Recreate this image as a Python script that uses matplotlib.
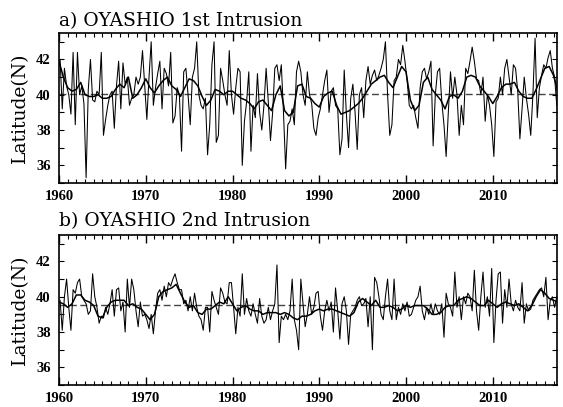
import numpy as np
import matplotlib
matplotlib.use("Agg")
import matplotlib.pyplot as plt
from matplotlib.ticker import MultipleLocator

# panel a: 1st intrusion latitude, 4 values per year from 1960
a_thin = [
    42.0, 39.2, 41.5, 40.5,  40.0, 38.9, 42.4, 38.3,  42.4, 40.0, 40.5, 39.5,
    35.3, 40.3, 42.0, 39.7,  39.6, 40.2, 40.0, 42.4,  37.7, 38.6, 39.4, 40.0,
    40.2, 38.1, 40.5, 41.9,  39.2, 41.8, 40.6, 41.0,  39.4, 39.8, 40.0, 41.0,
    40.6, 41.0, 42.5, 40.5,  38.6, 41.0, 43.0, 39.4,  40.4, 41.2, 41.9, 39.2,
    41.5, 41.2, 40.5, 42.4,  38.4, 38.8, 40.4, 40.0,  36.8, 41.3, 41.5, 40.0,
    38.3, 41.0, 41.5, 43.0,  40.0, 39.4, 39.2, 39.8,  36.6, 38.3, 41.7, 43.0,
    37.3, 37.7, 41.5, 40.8,  40.0, 39.4, 42.5, 40.0,  38.9, 40.4, 41.5, 41.3,
    36.0, 38.5, 39.6, 41.3,  36.8, 39.4, 38.7, 41.2,  39.0, 38.0, 39.4, 41.5,
    39.6, 37.4, 39.0, 41.5,  41.7, 40.8, 41.7, 39.0,  35.8, 38.3, 38.5, 39.2,
    38.3, 41.3, 41.9, 41.3,  40.0, 39.4, 41.3, 40.0,  39.5, 38.1, 37.7, 38.7,
    39.2, 40.0, 40.8, 41.4,  39.0, 40.2, 40.4, 39.4,  39.2, 36.6, 37.5, 41.4,
    38.9, 37.0, 39.8, 40.6,  39.0, 36.9, 40.0, 40.4,  38.7, 40.8, 41.6, 40.6,
    41.1, 41.4, 40.8, 41.1,  41.5, 42.0, 43.0, 40.0,  37.7, 38.3, 40.8, 41.0,
    42.0, 41.7, 42.8, 41.9,  40.8, 39.4, 39.2, 39.4,  38.7, 38.1, 40.4, 41.3,
    41.5, 40.9, 41.3, 41.9,  37.1, 40.0, 41.3, 41.5,  39.6, 38.3, 36.5, 39.0,
    41.3, 39.8, 41.0, 40.0,  37.7, 39.4, 38.3, 41.5,  41.2, 41.9, 42.7, 41.9,
    40.9, 40.8, 40.0, 41.0,  38.5, 40.0, 39.4, 38.3,  36.5, 39.6, 39.8, 41.0,
    40.0, 41.5, 42.0, 41.0,  40.0, 41.7, 41.5, 40.2,  37.5, 39.2, 41.0, 39.8,
    38.9, 37.7, 40.0, 43.2,  38.7, 40.4, 41.1, 41.7,  41.5, 42.1, 42.5, 41.5,
    41.0, 39.4,
]
# panel a: smoothed curve, 2 values per year from 1960.0
a_smooth = [
    41.9, 41.0, 40.4, 40.2, 40.3, 40.7, 40.0, 39.9, 39.9, 40.0,
    39.8, 39.8, 39.9, 40.3, 40.6, 40.4, 41.0, 39.8, 40.0, 40.4,
    40.9, 40.4, 40.1, 40.5, 40.8, 41.0, 40.5, 40.3, 39.9, 40.4,
    40.9, 40.8, 40.5, 39.9, 39.4, 39.7, 40.3, 40.2, 40.0, 40.2,
    40.2, 40.0, 39.8, 39.7, 39.5, 39.2, 39.6, 39.7, 39.4, 39.1,
    40.0, 40.5, 39.1, 38.8, 39.0, 40.5, 40.6, 39.9, 39.8, 39.5,
    39.3, 39.9, 40.1, 40.2, 39.4, 38.9, 39.0, 39.1, 39.3, 39.5,
    39.8, 40.2, 40.6, 40.8, 41.0, 41.1, 40.7, 40.4, 41.0, 41.6,
    41.3, 39.7, 39.1, 39.4, 40.7, 41.0, 40.3, 40.0, 39.7, 39.2,
    39.9, 40.0, 39.8, 40.2, 41.0, 41.1, 41.0, 40.5, 40.2, 39.9,
    39.5, 39.9, 40.4, 40.6, 40.6, 40.7, 40.2, 39.9, 39.8, 39.8,
    40.3, 40.9, 41.5, 41.6, 41.1, 40.2,
]

# panel b: 2nd intrusion latitude, 4 values per year from 1960
b_thin = [
    39.8, 38.1, 40.0, 41.0,  39.4, 38.1, 40.4, 40.2,  40.8, 41.0, 40.0, 39.8,
    39.6, 39.0, 39.2, 41.3,  40.0, 39.4, 38.5, 38.9,  38.8, 39.4, 39.0, 39.6,
    40.4, 38.9, 40.4, 40.5,  39.2, 39.7, 38.0, 41.0,  39.4, 41.0, 40.4, 39.2,
    38.3, 39.7, 38.9, 39.0,  38.7, 38.2, 39.0, 37.9,  39.2, 40.2, 40.4, 39.8,
    40.6, 40.0, 40.8, 40.6,  41.0, 41.3, 40.8, 40.4,  40.4, 39.6, 39.8, 39.2,
    40.0, 39.2, 40.2, 39.4,  38.9, 38.7, 38.1, 39.4,  39.4, 38.0, 40.3, 39.8,
    39.4, 39.0, 40.5, 40.2,  39.7, 39.6, 40.8, 40.8,  39.4, 37.9, 39.4, 38.9,
    41.3, 39.0, 39.9, 39.2,  38.9, 39.6, 39.0, 38.5,  39.9, 38.9, 38.5, 38.7,
    39.4, 38.7, 39.2, 39.6,  41.8, 37.4, 38.9, 38.7,  39.0, 38.7, 39.2, 41.0,
    38.7, 38.1, 37.0, 41.0,  39.6, 38.3, 39.0, 40.0,  39.0, 39.4, 40.2, 40.3,
    38.9, 38.1, 39.2, 39.8,  39.2, 39.7, 38.0, 40.5,  39.2, 37.6, 39.6, 40.0,
    39.2, 37.3, 39.0, 39.2,  39.4, 39.8, 40.0, 39.5,  39.6, 39.9, 38.3, 40.0,
    37.0, 41.1, 40.8, 40.0,  39.0, 38.7, 40.0, 41.0,  39.2, 38.7, 41.0, 38.7,
    39.4, 39.0, 39.6, 39.2,  39.7, 38.9, 39.0, 39.4,  39.8, 40.0, 40.6, 39.2,
    38.7, 39.4, 39.0, 39.6,  39.0, 39.6, 39.2, 39.0,  39.6, 37.7, 40.2, 39.6,
    39.4, 38.9, 41.4, 39.4,  40.0, 38.7, 40.0, 39.6,  40.2, 40.0, 39.2, 41.5,
    39.2, 38.1, 40.0, 41.4,  39.4, 40.0, 38.9, 41.6,  37.4, 39.8, 41.3, 41.4,
    38.5, 40.4, 39.4, 41.0,  39.6, 39.2, 39.8, 39.4,  39.2, 40.8, 38.5, 39.6,
    39.2, 39.3, 39.8, 40.0,  40.2, 40.4, 40.5, 40.0,  41.1, 38.7, 39.8, 40.0,
    39.4, 40.0,
]
b_smooth = [
    39.7, 39.6, 39.4, 39.6, 40.1, 40.1, 39.8, 39.7, 39.5, 38.9,
    38.8, 39.4, 39.7, 39.8, 39.8, 39.8, 39.5, 39.6, 39.4, 39.3,
    39.0, 38.7, 39.0, 40.0, 40.3, 40.4, 40.5, 40.7, 40.2, 39.7,
    39.4, 39.5, 39.1, 39.0, 39.3, 39.3, 39.5, 39.7, 39.6, 40.0,
    39.6, 39.2, 39.4, 39.5, 39.3, 39.2, 39.2, 39.0, 39.1, 39.1,
    39.1, 39.0, 39.1, 39.0, 38.8, 38.7, 38.9, 38.9, 39.0, 39.2,
    39.3, 39.2, 39.3, 39.3, 39.2, 39.1, 39.0, 38.9, 39.1, 39.7,
    39.9, 39.7, 39.5, 39.8, 39.4, 39.4, 39.5, 39.4, 39.2, 39.3,
    39.5, 39.4, 39.5, 39.5, 39.5, 39.3, 39.0, 39.0, 39.1, 39.4,
    39.5, 39.5, 39.8, 39.9, 40.0, 39.9, 39.7, 39.5, 39.5, 39.8,
    39.6, 39.4, 39.6, 39.7, 39.6, 39.5, 39.6, 39.4, 39.2, 39.5,
    40.0, 40.4, 40.2, 39.9, 39.8, 39.7,
]

a_mean = 40.05
b_mean = 39.55
titles = ["a) OYASHIO 1st Intrusion", "b) OYASHIO 2nd Intrusion"]

fig = plt.figure(figsize=(5.63, 4.07), dpi=100)
ax1 = fig.add_axes([0.1048, 0.5504, 0.8845, 0.3686])
ax2 = fig.add_axes([0.1048, 0.0541, 0.8845, 0.3686])

panels = [(ax1, a_thin, a_smooth, a_mean, titles[0], 1.047),
          (ax2, b_thin, b_smooth, b_mean, titles[1], 1.06)]

for ax, thin, smooth, mean, title, ty in panels:
    thin = np.array(thin)
    smooth = np.array(smooth)
    t_thin = 1960 + (np.arange(len(thin)) + 0.5) / 4.0
    t_smooth = 1960 + np.arange(len(smooth)) * 0.5

    ax.axhline(mean, color="#444444", lw=1.0, dashes=(5, 2.5), zorder=1)
    ax.plot(t_thin, thin, color="black", lw=0.75, zorder=2)
    ax.plot(t_smooth, smooth, color="black", lw=1.1, zorder=3)

    ax.set_xlim(1960, 2017.4)
    ax.set_ylim(35, 43.5)
    ax.xaxis.set_major_locator(MultipleLocator(10))
    ax.xaxis.set_minor_locator(MultipleLocator(1))
    ax.yaxis.set_major_locator(MultipleLocator(2))
    ax.yaxis.set_minor_locator(MultipleLocator(1))
    ax.tick_params(which="both", direction="in", top=True, right=True)
    ax.tick_params(axis="x", which="major", length=6, width=1, pad=5)
    ax.tick_params(axis="x", which="minor", length=3, width=0.8)
    ax.tick_params(axis="y", which="both", length=3.5, width=0.8, pad=6)
    for lab in ax.get_xticklabels() + ax.get_yticklabels():
        lab.set_fontfamily("Liberation Serif")
        lab.set_fontweight("bold")
        lab.set_fontsize(10.5)
    for sp in ax.spines.values():
        sp.set_linewidth(1.2)

    ax.set_ylabel("Latitude(N)", fontfamily="DejaVu Serif", fontsize=13.5)
    ax.yaxis.set_label_coords(-0.06, 0.5)
    ax.text(0, ty, title, transform=ax.transAxes, ha="left", va="baseline",
            fontfamily="DejaVu Serif", fontsize=13.5)

fig.savefig("out.png", dpi=100)
